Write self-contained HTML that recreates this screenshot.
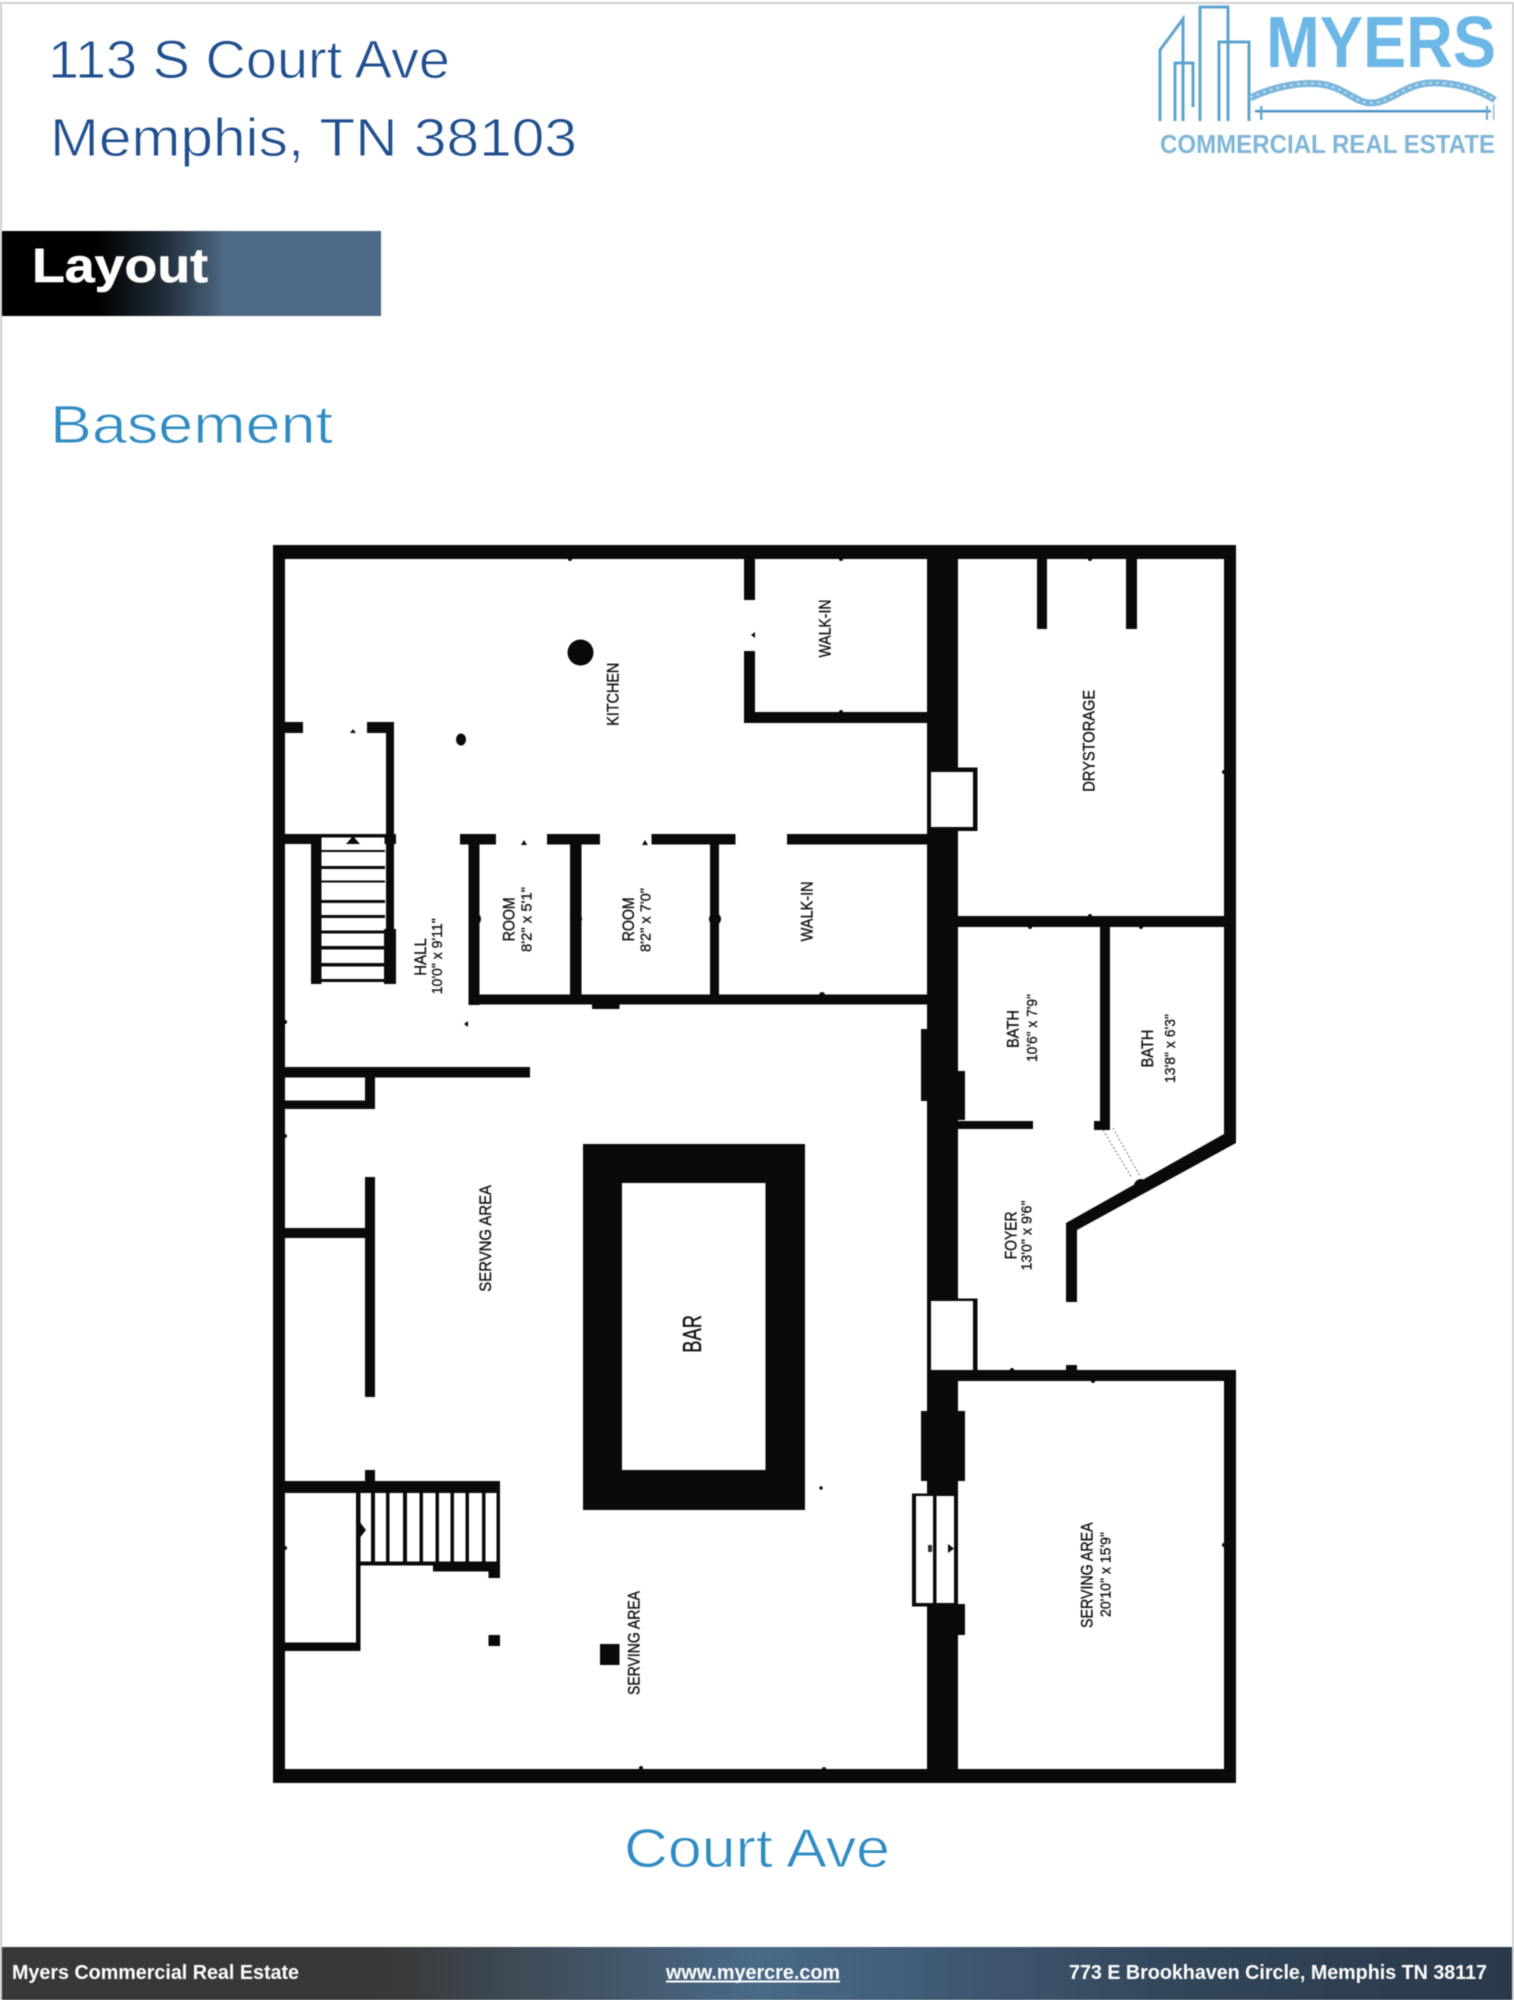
<!DOCTYPE html>
<html lang="en">
<head>
<meta charset="utf-8">
<title>113 S Court Ave - Layout</title>
<style>
html,body{margin:0;padding:0;background:#fff;width:1514px;height:2000px;overflow:hidden}
svg{display:block;filter:blur(.45px)}
text{font-family:"Liberation Sans",Arial,sans-serif}
.l{font-size:17px;fill:#111;stroke:#111;stroke-width:.35}
.d{font-size:15px;fill:#111;stroke:#111;stroke-width:.3}
.w rect,.w polygon{fill:#0a0a0a}
</style>
</head>
<body>
<svg width="1514" height="2000" viewBox="0 0 1514 2000" xmlns="http://www.w3.org/2000/svg">
<defs>
<linearGradient id="gb" gradientUnits="userSpaceOnUse" x1="2" y1="0" x2="381" y2="0">
<stop offset="0" stop-color="#000"/><stop offset=".25" stop-color="#000"/><stop offset=".42" stop-color="#1f2b36"/><stop offset=".59" stop-color="#4e6a84"/><stop offset="1" stop-color="#4e6a84"/>
</linearGradient>
<linearGradient id="gf" gradientUnits="userSpaceOnUse" x1="2" y1="0" x2="1512" y2="0">
<stop offset="0" stop-color="#383838"/><stop offset=".25" stop-color="#383838"/><stop offset=".5" stop-color="#4a6a88"/><stop offset=".78" stop-color="#33465a"/><stop offset="1" stop-color="#2b3a4b"/>
</linearGradient>
</defs>
<rect width="1514" height="2000" fill="#fff"/>
<!-- frame -->
<rect x="0" y="2" width="1514" height="2" fill="#cfcfcf"/>
<rect x="0" y="2" width="2" height="1998" fill="#cfcfcf"/>
<rect x="1512" y="2" width="2" height="1998" fill="#cfcfcf"/>

<!-- headings -->
<text x="48" y="78" font-size="54" fill="#1f4f8f" stroke="#fff" stroke-width=".9" textLength="402" lengthAdjust="spacingAndGlyphs">113 S Court Ave</text>
<text x="50" y="156" font-size="54" fill="#1f4f8f" stroke="#fff" stroke-width=".9" textLength="527" lengthAdjust="spacingAndGlyphs">Memphis, TN 38103</text>
<rect x="2" y="231" width="379" height="85" fill="url(#gb)"/>
<text x="32" y="282" font-size="48" font-weight="700" fill="#fff" stroke="#fff" stroke-width=".6" textLength="176" lengthAdjust="spacingAndGlyphs">Layout</text>
<text x="50" y="443" font-size="54" fill="#2f8cc2" stroke="#fff" stroke-width=".9" textLength="283" lengthAdjust="spacingAndGlyphs">Basement</text>

<!-- logo -->
<g fill="none" stroke="#5ea4d0" stroke-width="3">
<polyline points="1160,121 1160,50 1183,19 1183,121"/>
<polyline points="1175,121 1175,63 1193,63 1193,107"/>
<polyline points="1200,121 1200,7 1228,7 1228,121"/>
<polyline points="1219,121 1219,42 1249,42 1249,121"/>
</g>
<text x="1266" y="67" font-size="72" font-weight="700" fill="#6db7e6" textLength="230" lengthAdjust="spacingAndGlyphs">MYERS</text>
<path d="M1250,98 C1275,86 1300,82 1320,84 C1345,87 1355,103 1371,103 C1390,103 1405,84 1430,83 C1455,82 1480,90 1495,100" fill="none" stroke="#79b6da" stroke-width="7"/>
<path d="M1250,98 C1275,86 1300,82 1320,84 C1345,87 1355,103 1371,103 C1390,103 1405,84 1430,83 C1455,82 1480,90 1495,100" fill="none" stroke="#bcdcef" stroke-width="2" stroke-dasharray="3 4"/>
<rect x="1255" y="110" width="236" height="2.5" fill="#4b93c6"/>
<rect x="1260" y="106" width="2.5" height="14" fill="#6aa9d2"/>
<rect x="1486" y="106" width="2" height="14" fill="#6aa9d2"/>
<rect x="1493" y="104" width="1.5" height="16" fill="#8fc0dd"/>
<text x="1160" y="153" font-size="26" font-weight="700" fill="#7fb6d7" textLength="335" lengthAdjust="spacingAndGlyphs">COMMERCIAL REAL ESTATE</text>

<!-- floor plan -->
<g class="w">
<!-- outer -->
<rect x="273" y="545" width="963" height="14"/>
<rect x="273" y="545" width="12" height="1238"/>
<rect x="273" y="1769" width="963" height="14"/>
<rect x="1224" y="545" width="12" height="595"/>
<rect x="1224" y="1370" width="12" height="413"/>
<!-- central thick wall -->
<rect x="927" y="545" width="31" height="1238"/>
<rect x="921" y="1029" width="7" height="72"/>
<rect x="957" y="1071" width="8" height="49"/>
<rect x="921" y="1411" width="44" height="70"/>
<rect x="927" y="1604" width="38" height="31"/>
<!-- drystorage stubs -->
<rect x="1037" y="558" width="10" height="71"/>
<rect x="1126" y="558" width="11" height="71"/>
<!-- bath -->
<rect x="957" y="916" width="279" height="11"/>
<rect x="1100" y="927" width="10" height="203"/>
<rect x="1094" y="1121" width="16" height="9"/>
<rect x="957" y="1121" width="76" height="8"/>
<polygon points="1224,1134 1236,1134 1236,1143 1077,1230 1077,1302 1066,1302 1066,1223"/>
<!-- serving right top -->
<rect x="957" y="1370" width="279" height="11"/>
<rect x="1066" y="1365" width="11" height="16"/>
<!-- walk-in upper -->
<rect x="744" y="558" width="11" height="42"/>
<rect x="744" y="651" width="11" height="72"/>
<rect x="744" y="712" width="183" height="11"/>
<!-- left stair room -->
<rect x="285" y="722" width="18" height="11"/>
<rect x="367" y="722" width="27" height="11"/>
<rect x="386" y="722" width="8" height="262"/>
<rect x="384" y="929" width="12" height="55"/>
<rect x="285" y="834" width="111" height="10"/>
<rect x="311" y="844" width="10.5" height="140"/>
<!-- treads -->
<rect x="321" y="850" width="64" height="2"/>
<rect x="321" y="866" width="64" height="3"/>
<rect x="321" y="880.5" width="64" height="2"/>
<rect x="321" y="900" width="64" height="3"/>
<rect x="321" y="915" width="64" height="3"/>
<rect x="321" y="930.5" width="64" height="3"/>
<rect x="321" y="946" width="64" height="3.5"/>
<rect x="321" y="963" width="64" height="3.5"/>
<rect x="321" y="979" width="64" height="3"/>
<!-- rooms -->
<rect x="460" y="834" width="36" height="10.5"/>
<rect x="547" y="834" width="53" height="10.5"/>
<rect x="651.5" y="834" width="84" height="10.5"/>
<rect x="787" y="834" width="140" height="10.5"/>
<rect x="468.5" y="844" width="11" height="161"/>
<rect x="570" y="844" width="11.5" height="151"/>
<rect x="710" y="844" width="9" height="151"/>
<rect x="468.5" y="994.5" width="459" height="10"/>
<rect x="592" y="1004" width="27.5" height="5"/>
<!-- hall lower -->
<rect x="285" y="1067" width="245" height="10.5"/>
<rect x="365" y="1077" width="10" height="32"/>
<rect x="285" y="1100.5" width="90" height="8.5"/>
<!-- serving left -->
<rect x="365" y="1177" width="10" height="220"/>
<rect x="285" y="1228" width="80" height="10"/>
<!-- bar -->
<polygon fill-rule="evenodd" points="583,1144 805,1144 805,1510 583,1510"/>
<!-- lower stair -->
<rect x="285" y="1481" width="215" height="12"/>
<rect x="365" y="1470" width="10" height="11"/>
<rect x="356" y="1492" width="4.5" height="158"/>
<rect x="371" y="1492" width="4" height="70"/>
<rect x="386" y="1492" width="3.5" height="70"/>
<rect x="403" y="1492" width="4" height="70"/>
<rect x="419.5" y="1492" width="3.5" height="70"/>
<rect x="435.5" y="1492" width="3.5" height="70"/>
<rect x="450.5" y="1492" width="3.5" height="70"/>
<rect x="465.5" y="1492" width="3.5" height="70"/>
<rect x="482" y="1492" width="3.5" height="70"/>
<rect x="496.5" y="1492" width="3.5" height="85"/>
<rect x="356" y="1561.5" width="144" height="4"/>
<rect x="433" y="1565" width="67" height="6.5"/>
<rect x="488.5" y="1571" width="11.5" height="7"/>
<rect x="285" y="1642.5" width="75.5" height="8.5"/>
<!-- columns -->
<rect x="488.5" y="1635" width="11.5" height="11"/>
<rect x="600" y="1644" width="19.5" height="21"/>
</g>
<!-- bar interior -->
<rect x="622" y="1183" width="143.5" height="287" fill="#fff"/>
<!-- round columns -->
<circle cx="580.5" cy="652.5" r="13" fill="#0a0a0a"/>
<ellipse cx="461" cy="739.5" rx="5" ry="6" fill="#0a0a0a"/>
<circle cx="1141" cy="1186" r="7" fill="#0a0a0a"/>
<circle cx="821" cy="1488" r="1.7" fill="#0a0a0a"/>

<!-- door boxes -->
<rect x="931" y="767.5" width="46.5" height="63.5" fill="#0a0a0a"/>
<rect x="931" y="772" width="42" height="55" fill="#fff"/>
<rect x="931" y="1298.5" width="46.5" height="73" fill="#0a0a0a"/>
<rect x="931" y="1301" width="42" height="69" fill="#fff"/>
<rect x="973" y="1301" width="4.5" height="70" fill="#0a0a0a"/>
<!-- stairs-door box -->
<rect x="912" y="1493.5" width="46" height="113" fill="#0a0a0a"/>
<rect x="916" y="1496" width="17" height="107" fill="#fff"/>
<rect x="936.5" y="1496" width="17.5" height="107" fill="#fff"/>
<polygon points="948,1544 948,1553 954,1548.5" fill="#0a0a0a"/>
<polygon points="928,1545 932,1545 932,1552 928,1552" fill="#333"/>
<!-- white slot w/ triangle at stair top -->
<rect x="321.5" y="837.5" width="63" height="7" fill="#fff"/>
<polygon points="353,836 346,844 360,844" fill="#0a0a0a"/>
<polygon points="360.5,1523 360.5,1537 366,1530" fill="#0a0a0a"/>
<!-- small marks -->
<g fill="#0a0a0a">
<polygon points="353,729 350,733 356,733"/>
<polygon points="524,840 521,845 527,845"/>
<polygon points="645,840 642,845 648,845"/>
<polygon points="755,632 751,635 755,638"/>
<polygon points="468,1021 464,1024 468,1027"/>
<circle cx="570" cy="559" r="2"/><circle cx="841" cy="559" r="2"/>
<circle cx="841" cy="712" r="2"/><circle cx="1090" cy="559" r="2"/>
<circle cx="1090" cy="916" r="2"/><circle cx="1030" cy="927" r="2"/><circle cx="1141" cy="927" r="2"/>
<circle cx="1224" cy="772" r="2"/><circle cx="1224" cy="1545" r="2"/>
<circle cx="475" cy="919" r="6"/><circle cx="576" cy="919" r="6"/><circle cx="715" cy="919" r="6"/>
<circle cx="822" cy="995" r="3"/><circle cx="824" cy="1769" r="2"/><circle cx="641" cy="1768" r="2"/>
<circle cx="1012" cy="1370" r="2"/><circle cx="1093" cy="1381" r="2"/>
<circle cx="285" cy="1022" r="2"/><circle cx="285" cy="1136" r="2"/><circle cx="285" cy="1548" r="2"/>
</g>
<g stroke="#777" stroke-width="1" stroke-dasharray="2 2" fill="none">
<line x1="1103" y1="1130" x2="1132" y2="1178"/>
<line x1="1113" y1="1128" x2="1140" y2="1176"/>
</g>

<!-- room labels -->
<g>
<text class="l" transform="translate(618.5,725.7) rotate(-90)" textLength="63" lengthAdjust="spacingAndGlyphs">KITCHEN</text>
<text class="l" transform="translate(830.5,657.5) rotate(-90)" textLength="58" lengthAdjust="spacingAndGlyphs">WALK-IN</text>
<text class="l" transform="translate(812.7,941.4) rotate(-90)" textLength="60" lengthAdjust="spacingAndGlyphs">WALK-IN</text>
<text class="l" transform="translate(514.5,941.4) rotate(-90)" textLength="44" lengthAdjust="spacingAndGlyphs">ROOM</text>
<text class="d" transform="translate(531.4,952) rotate(-90)" textLength="65" lengthAdjust="spacingAndGlyphs">8'2" x 5'1"</text>
<text class="l" transform="translate(634,941.4) rotate(-90)" textLength="44" lengthAdjust="spacingAndGlyphs">ROOM</text>
<text class="d" transform="translate(650.6,952) rotate(-90)" textLength="64" lengthAdjust="spacingAndGlyphs">8'2" x 7'0"</text>
<text class="l" transform="translate(426,975.7) rotate(-90)" textLength="37.5" lengthAdjust="spacingAndGlyphs">HALL</text>
<text class="d" transform="translate(442,994.3) rotate(-90)" textLength="76" lengthAdjust="spacingAndGlyphs">10'0" x 9'11"</text>
<text class="l" transform="translate(1094.3,791.8) rotate(-90)" textLength="102" lengthAdjust="spacingAndGlyphs">DRYSTORAGE</text>
<text class="l" transform="translate(1018.3,1048) rotate(-90)" textLength="38" lengthAdjust="spacingAndGlyphs">BATH</text>
<text class="d" transform="translate(1037,1062) rotate(-90)" textLength="68" lengthAdjust="spacingAndGlyphs">10'6" x 7'9"</text>
<text class="l" transform="translate(1153,1067.5) rotate(-90)" textLength="38" lengthAdjust="spacingAndGlyphs">BATH</text>
<text class="d" transform="translate(1175,1083) rotate(-90)" textLength="69" lengthAdjust="spacingAndGlyphs">13'8" x 6'3"</text>
<text class="l" transform="translate(1016.7,1259.4) rotate(-90)" textLength="48" lengthAdjust="spacingAndGlyphs">FOYER</text>
<text class="d" transform="translate(1031.7,1270.5) rotate(-90)" textLength="70" lengthAdjust="spacingAndGlyphs">13'0" x 9'6"</text>
<text class="l" transform="translate(1092.7,1628) rotate(-90)" textLength="105.6" lengthAdjust="spacingAndGlyphs">SERVING AREA</text>
<text class="d" transform="translate(1110.7,1617) rotate(-90)" textLength="85" lengthAdjust="spacingAndGlyphs">20'10" x 15'9"</text>
<text class="l" transform="translate(490.8,1291.7) rotate(-90)" textLength="106.7" lengthAdjust="spacingAndGlyphs">SERVNG AREA</text>
<text class="l" transform="translate(639.5,1695) rotate(-90)" textLength="104" lengthAdjust="spacingAndGlyphs">SERVING AREA</text>
<text transform="translate(701,1352.7) rotate(-90)" font-size="26" fill="#111" stroke="#111" stroke-width=".4" textLength="37.7" lengthAdjust="spacingAndGlyphs">BAR</text>
</g>

<text x="624" y="1867" font-size="55" fill="#2f8cc2" stroke="#fff" stroke-width=".9" textLength="266" lengthAdjust="spacingAndGlyphs">Court Ave</text>

<!-- footer -->
<rect x="2" y="1947" width="1510" height="53" fill="url(#gf)"/>
<text x="12" y="1979" font-size="20" font-weight="700" fill="#fff" textLength="287" lengthAdjust="spacingAndGlyphs">Myers Commercial Real Estate</text>
<text x="666" y="1979" font-size="20" font-weight="700" fill="#fff" textLength="174" lengthAdjust="spacingAndGlyphs">www.myercre.com</text>
<rect x="666" y="1980.5" width="174" height="2" fill="#fff"/>
<text x="1069" y="1979" font-size="20" font-weight="700" fill="#fff" textLength="418" lengthAdjust="spacingAndGlyphs">773 E Brookhaven Circle, Memphis TN 38117</text>
</svg>
</body>
</html>
